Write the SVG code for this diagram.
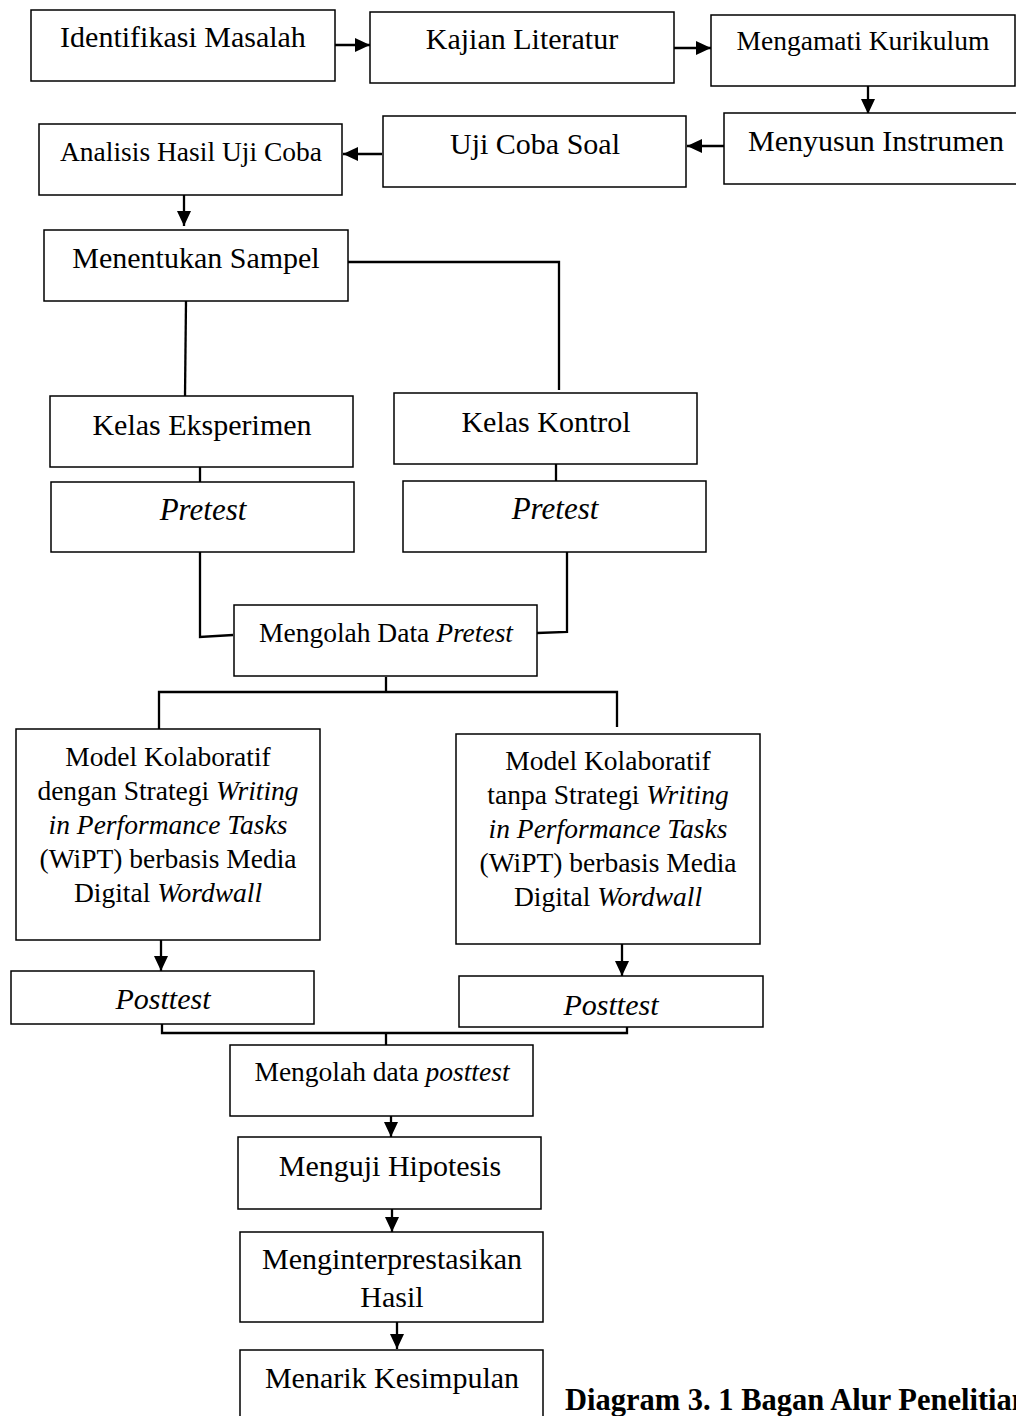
<svg xmlns="http://www.w3.org/2000/svg" width="1016" height="1416" viewBox="0 0 1016 1416">
<style>
.box{fill:#fff;stroke:#000;stroke-width:1.5}
.t{font-family:"Liberation Serif","Times New Roman",serif;font-size:30px;fill:#000;text-anchor:middle}
.s{font-size:27.5px}
.i{font-style:italic}
.pre{font-size:31px}
.post{font-size:30px}
.ln{fill:none;stroke:#000;stroke-width:2.3}
.cap{font-family:"Liberation Serif","Times New Roman",serif;font-size:30.5px;font-weight:bold;fill:#000}
</style>
<defs>
<marker id="ah" viewBox="0 0 15 14" refX="15" refY="7" markerWidth="15" markerHeight="14" markerUnits="userSpaceOnUse" orient="auto">
<path d="M0,0 L15,7 L0,14 z" fill="#000"/>
</marker>
</defs>
<rect width="1016" height="1416" fill="#fff"/>
<g id="connectors">
<line class="ln" x1="335" y1="45" x2="370" y2="45" marker-end="url(#ah)"/>
<line class="ln" x1="674" y1="48" x2="711" y2="48" marker-end="url(#ah)"/>
<line class="ln" x1="868" y1="86" x2="868" y2="114" marker-end="url(#ah)"/>
<line class="ln" x1="724" y1="146" x2="687" y2="146" marker-end="url(#ah)"/>
<line class="ln" x1="382" y1="154" x2="343" y2="154" marker-end="url(#ah)"/>
<line class="ln" x1="184" y1="195" x2="184" y2="226" marker-end="url(#ah)"/>
<polyline class="ln" points="348,262 559,262 559,390"/>
<line class="ln" x1="186" y1="301" x2="185" y2="396"/>
<line class="ln" x1="200" y1="467" x2="200" y2="482"/>
<line class="ln" x1="556" y1="464" x2="556" y2="481"/>
<polyline class="ln" points="200,552 200,637 233,635"/>
<polyline class="ln" points="567,552 567,632 537,633"/>
<polyline class="ln" points="386,677 386,692"/>
<polyline class="ln" points="159,729 159,692 617,692 617,727"/>
<line class="ln" x1="161" y1="940" x2="161" y2="971" marker-end="url(#ah)"/>
<line class="ln" x1="622" y1="944" x2="622" y2="976" marker-end="url(#ah)"/>
<polyline class="ln" points="162,1024 162,1033 627,1033 627,1027"/>
<line class="ln" x1="386" y1="1033" x2="386" y2="1045"/>
<line class="ln" x1="391" y1="1116" x2="391" y2="1137" marker-end="url(#ah)"/>
<line class="ln" x1="392" y1="1209" x2="392" y2="1232" marker-end="url(#ah)"/>
<line class="ln" x1="397" y1="1322" x2="397" y2="1349" marker-end="url(#ah)"/>
</g>
<g id="n1"><rect class="box" x="31" y="10" width="304" height="71"/><text class="t" x="183" y="47">Identifikasi Masalah</text></g>
<g id="n2"><rect class="box" x="370" y="12" width="304" height="71"/><text class="t" x="522" y="49">Kajian Literatur</text></g>
<g id="n3"><rect class="box" x="711" y="15" width="304" height="71"/><text class="t s" x="863" y="50">Mengamati Kurikulum</text></g>
<g id="n4"><rect class="box" x="724" y="113" width="304" height="71"/><text class="t" x="876" y="151">Menyusun Instrumen</text></g>
<g id="n5"><rect class="box" x="383" y="116" width="303" height="71"/><text class="t" x="535" y="154">Uji Coba Soal</text></g>
<g id="n6"><rect class="box" x="39" y="124" width="303" height="71"/><text class="t s" x="191" y="161">Analisis Hasil Uji Coba</text></g>
<g id="n7"><rect class="box" x="44" y="230" width="304" height="71"/><text class="t" x="196" y="268">Menentukan Sampel</text></g>
<g id="n8"><rect class="box" x="50" y="396" width="303" height="71"/><text class="t" x="202" y="435">Kelas Eksperimen</text></g>
<g id="n9"><rect class="box" x="394" y="393" width="303" height="71"/><text class="t" x="546" y="432">Kelas Kontrol</text></g>
<g id="n10"><rect class="box" x="51" y="482" width="303" height="70"/><text class="t i pre" x="203" y="520">Pretest</text></g>
<g id="n11"><rect class="box" x="403" y="481" width="303" height="71"/><text class="t i pre" x="555" y="519">Pretest</text></g>
<g id="n12"><rect class="box" x="234" y="605" width="303" height="71"/><text class="t s" x="386" y="642">Mengolah Data <tspan class="i">Pretest</tspan></text></g>
<g id="n13"><rect class="box" x="16" y="729" width="304" height="211"/>
<text class="t s" x="168" y="766">Model Kolaboratif</text>
<text class="t s" x="168" y="800">dengan Strategi <tspan class="i">Writing</tspan></text>
<text class="t s i" x="168" y="834">in Performance Tasks</text>
<text class="t s" x="168" y="868">(WiPT) berbasis Media</text>
<text class="t s" x="168" y="902">Digital <tspan class="i">Wordwall</tspan></text>
</g>
<g id="n14"><rect class="box" x="456" y="734" width="304" height="210"/>
<text class="t s" x="608" y="770">Model Kolaboratif</text>
<text class="t s" x="608" y="804">tanpa Strategi <tspan class="i">Writing</tspan></text>
<text class="t s i" x="608" y="838">in Performance Tasks</text>
<text class="t s" x="608" y="872">(WiPT) berbasis Media</text>
<text class="t s" x="608" y="906">Digital <tspan class="i">Wordwall</tspan></text>
</g>
<g id="n15"><rect class="box" x="11" y="971" width="303" height="53"/><text class="t i post" x="163" y="1009">Posttest</text></g>
<g id="n16"><rect class="box" x="459" y="976" width="304" height="51"/><text class="t i post" x="611" y="1015">Posttest</text></g>
<g id="n17"><rect class="box" x="230" y="1045" width="303" height="71"/><text class="t s" x="382" y="1081">Mengolah data <tspan class="i">posttest</tspan></text></g>
<g id="n18"><rect class="box" x="238" y="1137" width="303" height="72"/><text class="t" x="390" y="1176">Menguji Hipotesis</text></g>
<g id="n19"><rect class="box" x="240" y="1232" width="303" height="90"/><text class="t" x="392" y="1269">Menginterprestasikan</text><text class="t" x="392" y="1307">Hasil</text></g>
<g id="n20"><rect class="box" x="240" y="1350" width="303" height="80"/><text class="t" x="392" y="1388">Menarik Kesimpulan</text></g>
<text class="cap" x="565" y="1410">Diagram 3. 1 Bagan Alur Penelitian</text>
</svg>
